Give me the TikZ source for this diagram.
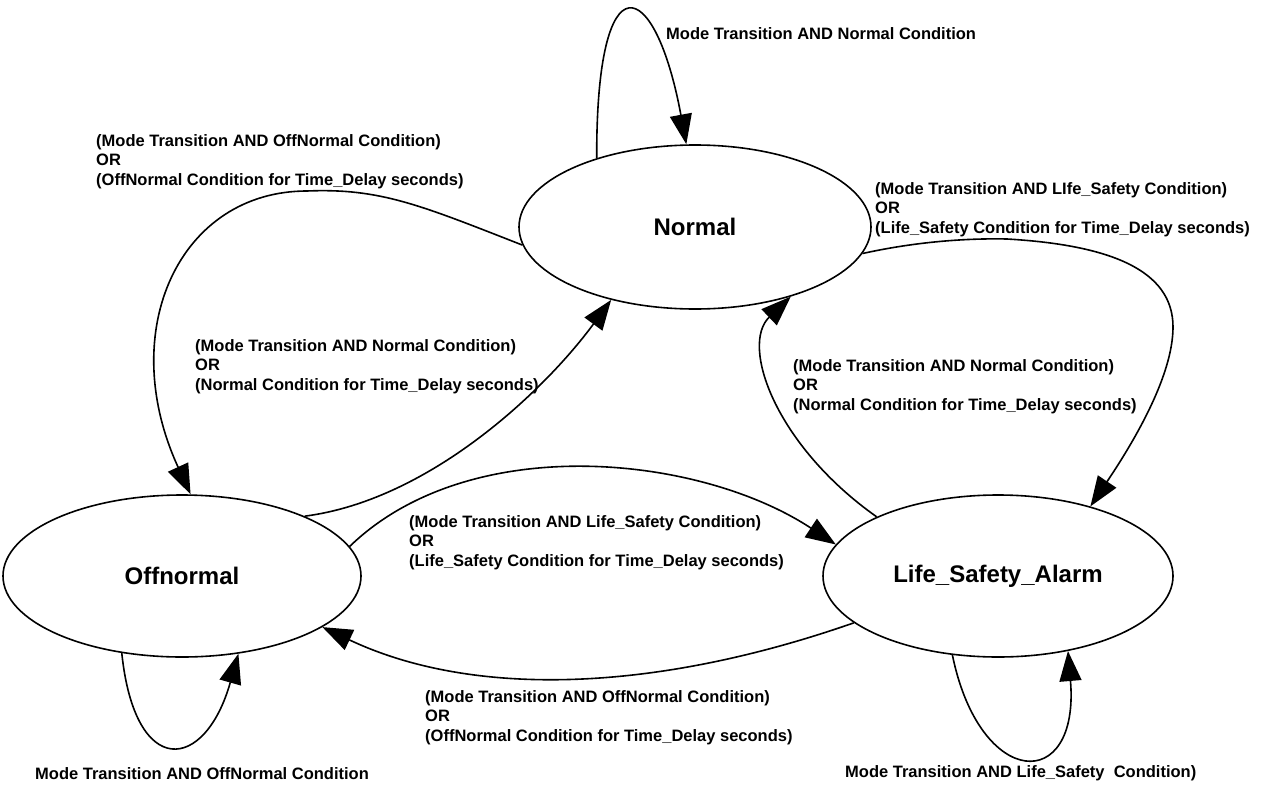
\documentclass[tikz,border=0pt]{standalone}
\usepackage{fontspec}
\setmainfont{Liberation Sans}
\usetikzlibrary{arrows.meta,shapes.geometric}
\begin{document}
\begin{tikzpicture}[x=1pt,y=-1pt,
  state/.style={ellipse,draw,line width=1.6pt,inner sep=0pt,font=\fontsize{24}{28}\selectfont\bfseries},
  lbl/.style={anchor=north west,inner sep=0pt,align=left,font=\fontsize{16.5}{19.5}\selectfont\bfseries},
  conn/.style={line width=1.6pt,-{Triangle[length=30pt,width=22pt]}}]
\path[use as bounding box] (0,0) rectangle (1268,784);
\node[state,minimum width=352pt,minimum height=164pt] (N) at (695,227) {Normal};
\node[state,minimum width=358pt,minimum height=162pt] (O) at (182,576) {Offnormal};
\node[state,minimum width=350pt,minimum height=162pt] (L) at (998,576) {Life\_Safety\_Alarm};
% self loops
\draw[conn] (N.145) .. controls (596,-45) and (655,-25) .. (N.96);
\draw[conn] (O.232) .. controls (135,780) and (205,772) .. (O.306.5);
\draw[conn] (L.240.3) .. controls (980,790) and (1080,794) .. (L.313.4);
% Normal -> Offnormal
\coordinate (c1) at (307,191);
\draw[conn] (N.186) .. controls (420,205) and (380,188) .. (c1) .. controls (180,191) and (115,330) .. (O.84);
% Offnormal -> Normal
\draw[conn] (O.26) .. controls (430,500) and (545,390) .. (N.221.3);
% Normal -> Life safety
\coordinate (c2) at (1007,239);
\coordinate (c3) at (1173,327);
\draw[conn] (N.351) .. controls (910,243) and (960,238) .. (c2) .. controls (1110,245) and (1173,270) .. (c3) .. controls (1173,375) and (1135,440) .. (L.37.9);
% Life safety -> Normal
\draw[conn] (L.154.2) .. controls (775,445) and (740,345) .. (N.324);
% Offnormal -> Life safety
\draw[conn] (O.10) .. controls (470,430) and (700,455) .. (L.169.3);
% Life safety -> Offnormal
\draw[conn] (L.198) .. controls (650,694) and (470,697) .. (O.340);
% labels
\node[lbl] (tN) at (666,27) {Mode Transition AND Normal Condition};
\node[lbl] (tA) at (96,134) {(Mode Transition AND OffNormal Condition)\\OR\\(OffNormal Condition for Time\_Delay seconds)};
\node[lbl] (tB) at (195,339) {(Mode Transition AND Normal Condition)\\OR\\(Normal Condition for Time\_Delay seconds)};
\node[lbl] (tC) at (875,182) {(Mode Transition AND LIfe\_Safety Condition)\\OR\\(Life\_Safety Condition for Time\_Delay seconds)};
\node[lbl] (tD) at (793,359) {(Mode Transition AND Normal Condition)\\OR\\(Normal Condition for Time\_Delay seconds)};
\node[lbl] (tE) at (409,515) {(Mode Transition AND Life\_Safety Condition)\\OR\\(Life\_Safety Condition for Time\_Delay seconds)};
\node[lbl] (tF) at (425,690) {(Mode Transition AND OffNormal Condition)\\OR\\(OffNormal Condition for Time\_Delay seconds)};
\node[lbl] (tO) at (35,767) {Mode Transition AND OffNormal Condition};
\node[lbl] (tL) at (845,765) {Mode Transition AND Life\_Safety\ \ Condition)};
\end{tikzpicture}
\end{document}
